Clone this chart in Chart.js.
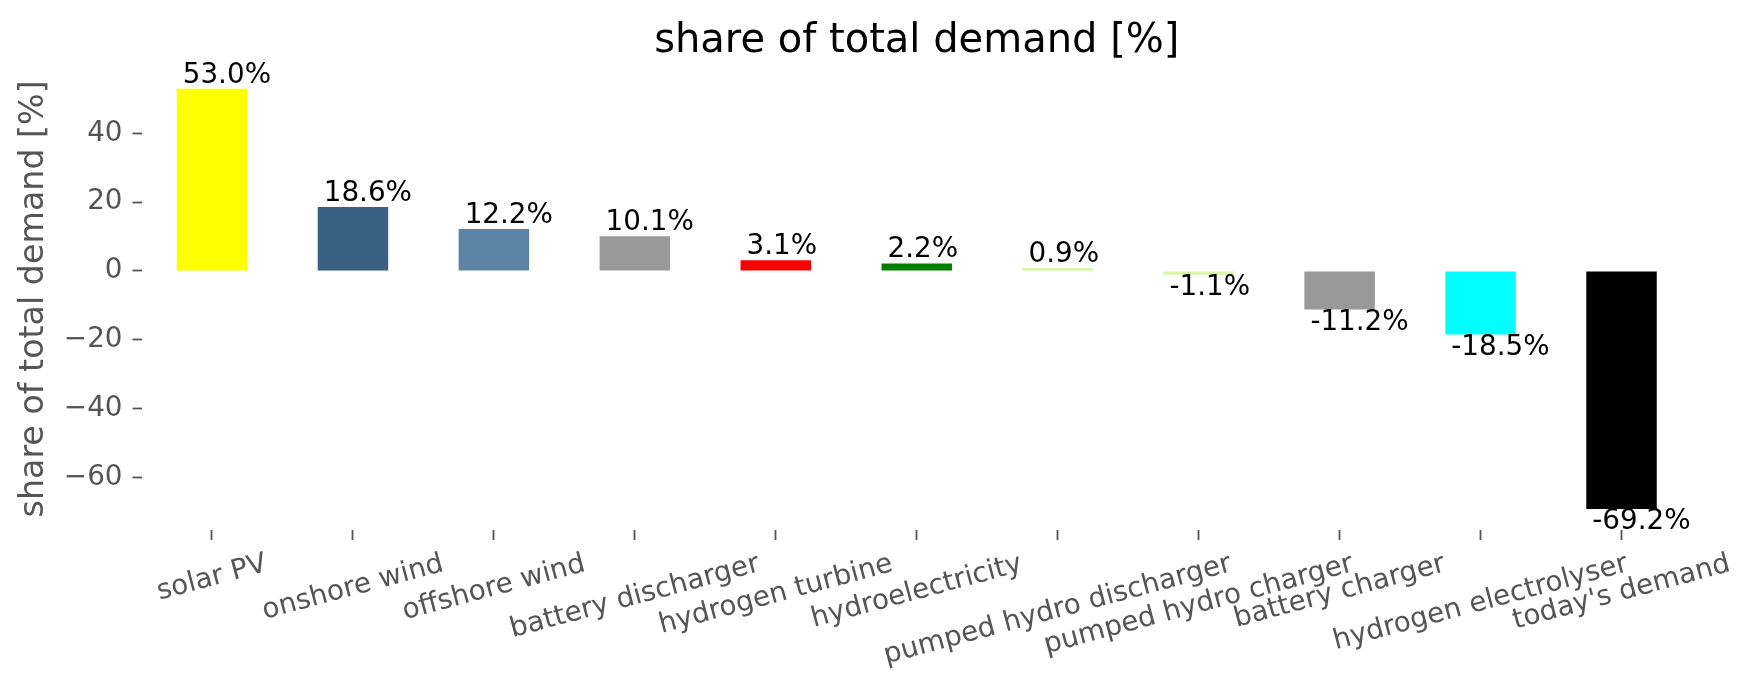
<!DOCTYPE html>
<html>
<head>
<meta charset="utf-8">
<script src="https://cdn.jsdelivr.net/npm/chart.js@4.4.1/dist/chart.umd.min.js"></script>
<style>
  html, body { margin: 0; padding: 0; background: #ffffff; }
  #wrap { width: 1753px; height: 689px; }
</style>
</head>
<body>
<div id="wrap"><canvas id="shareChart" width="1753" height="689"></canvas></div>
<script>
// Chart data
const categories = [
  "solar PV", "onshore wind", "offshore wind", "battery discharger",
  "hydrogen turbine", "hydroelectricity", "pumped hydro discharger",
  "pumped hydro charger", "battery charger", "hydrogen electrolyser",
  "today's demand"
];
const shares = [53.0, 18.6, 12.2, 10.1, 3.1, 2.2, 0.9, -1.1, -11.2, -18.5, -69.2];
const barColors = [
  "#ffff00", "#3b6182", "#5d83a4", "#999999", "#ff0000", "#008000",
  "#daf7a6", "#daf7a6", "#999999", "#00ffff", "#000000"
];
const yTicks = [-60, -40, -20, 0, 20, 40];

const FONT = "DejaVu Sans";
const GREY = "#555555";
const TICK_SIZE = 27.8;
const TITLE = "share of total demand [%]";

// matplotlib-like 5% margins on the value axis
const lo = Math.min(0, ...shares);
const hi = Math.max(0, ...shares);
const pad = (hi - lo) * 0.05;

// title centred over the plot area (not the whole canvas)
const axesTitle = {
  id: "axesTitle",
  afterDraw(chart) {
    const ctx = chart.ctx;
    const a = chart.chartArea;
    ctx.save();
    ctx.font = "40px '" + FONT + "'";
    ctx.fillStyle = "#000000";
    ctx.textAlign = "center";
    ctx.textBaseline = "alphabetic";
    ctx.fillText(TITLE, (a.left + a.right) / 2, 52);
    ctx.restore();
  }
};

// value labels next to the bars
const barLabels = {
  id: "barLabels",
  afterDatasetsDraw(chart) {
    const ctx = chart.ctx;
    const meta = chart.getDatasetMeta(0);
    ctx.save();
    ctx.font = TICK_SIZE + "px '" + FONT + "'";
    ctx.fillStyle = "#000000";
    ctx.textAlign = "left";
    ctx.textBaseline = "alphabetic";
    meta.data.forEach((bar, i) => {
      const v = shares[i];
      const x = bar.x - bar.width / 2 + 6;
      const y = v >= 0 ? bar.y - 6 : bar.y + 20;
      ctx.fillText(v.toFixed(1) + "%", x, y);
    });
    ctx.restore();
  }
};

// rotated category labels, centred under each tick like matplotlib
const rotatedTicks = {
  id: "rotatedTicks",
  afterDraw(chart) {
    const ctx = chart.ctx;
    const xs = chart.scales.x;
    const ang = 15 * Math.PI / 180;
    ctx.save();
    ctx.font = TICK_SIZE + "px '" + FONT + "'";
    ctx.fillStyle = GREY;
    ctx.textAlign = "center";
    ctx.textBaseline = "middle";
    const h = TICK_SIZE * 1.17;
    const top = xs.top + 10 + 8;
    categories.forEach((c, i) => {
      const w = ctx.measureText(c).width;
      const H = w * Math.sin(ang) + h * Math.cos(ang);
      const cx = xs.getPixelForTick(i);
      const cy = top + H / 2;
      ctx.save();
      ctx.translate(cx, cy);
      ctx.rotate(-ang);
      ctx.fillText(c, 0, 0);
      ctx.restore();
    });
    ctx.restore();
  }
};

new Chart(document.getElementById("shareChart"), {
  type: "bar",
  data: {
    labels: categories,
    datasets: [{
      data: shares,
      backgroundColor: barColors,
      borderWidth: 0,
      categoryPercentage: 1.0,
      barPercentage: 0.5
    }]
  },
  options: {
    responsive: false,
    animation: false,
    devicePixelRatio: 1,
    layout: { padding: { left: 0, right: 61, top: 67.7, bottom: 0 } },
    plugins: {
      legend: { display: false },
      tooltip: { enabled: false },
      title: { display: false }
    },
    scales: {
      x: {
        offset: true,
        border: { display: false },
        grid: {
          display: true,
          drawOnChartArea: false,
          drawTicks: true,
          tickLength: 10,
          tickColor: GREY,
          tickWidth: 1.8,
          offset: false
        },
        ticks: { display: false },
        afterFit(scale) { scale.height = 159; }
      },
      y: {
        min: lo - pad,
        max: hi + pad,
        border: { display: false },
        grid: {
          display: true,
          drawOnChartArea: false,
          drawTicks: true,
          tickLength: 9,
          tickColor: GREY,
          tickWidth: 1.8
        },
        afterBuildTicks(scale) {
          scale.ticks = yTicks.map(v => ({ value: v }));
        },
        ticks: {
          color: GREY,
          padding: 10,
          font: { family: FONT, size: TICK_SIZE },
          callback: v => (v < 0 ? "\u2212" + Math.abs(v) : String(v))
        },
        title: {
          display: true,
          text: TITLE,
          color: GREY,
          font: { family: FONT, size: 33.3, lineHeight: 1.2 },
          padding: { top: 14.5, bottom: 0 }
        },
        afterFit(scale) { scale.width = 141.5; }
      }
    }
  },
  plugins: [barLabels, rotatedTicks, axesTitle]
});
</script>
</body>
</html>
